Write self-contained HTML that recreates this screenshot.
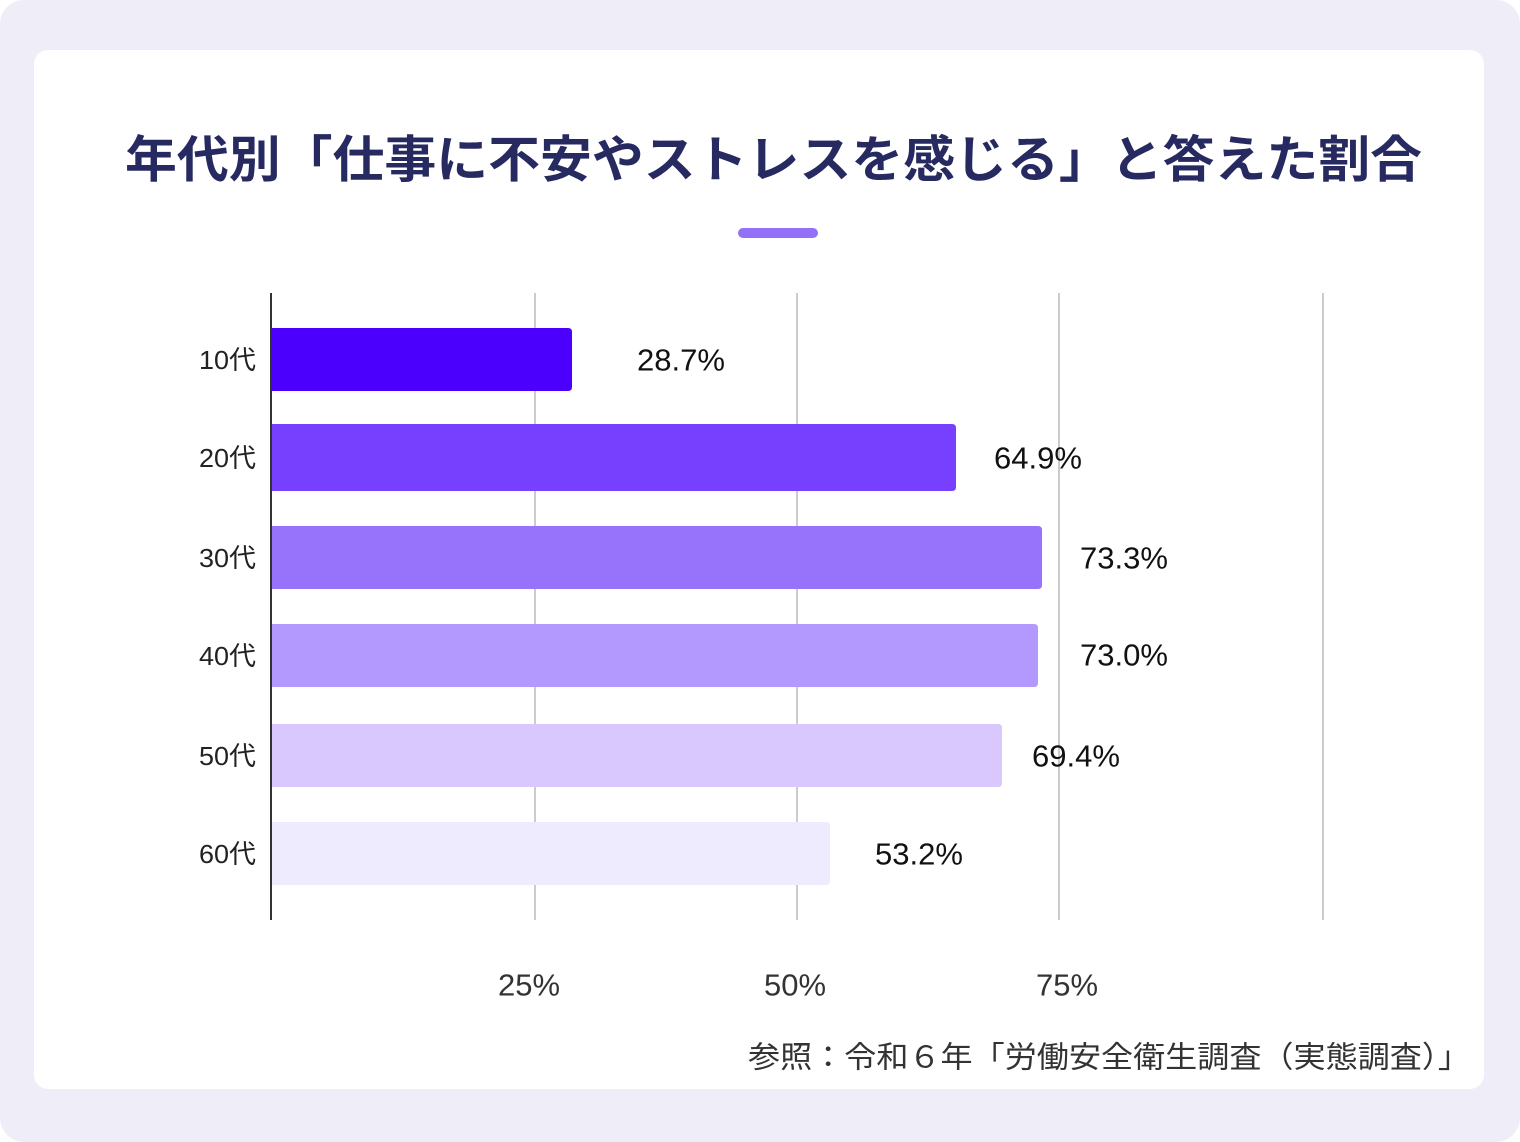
<!DOCTYPE html>
<html><head><meta charset="utf-8"><style>
html,body{margin:0;padding:0;background:#fff;}
svg{display:block;}
</style></head><body>
<svg width="1520" height="1142" viewBox="0 0 1520 1142" xmlns="http://www.w3.org/2000/svg">
<rect x="0" y="0" width="1520" height="1142" fill="#ffffff"/>
<rect x="0" y="0" width="1520" height="1142" rx="24" fill="#efeef8"/>
<rect x="34" y="50" width="1450" height="1039" rx="14" fill="#ffffff"/>
<text x="125" y="156" dominant-baseline="central" font-family="'Noto Sans CJK JP','IPAGothic',sans-serif" font-weight="bold" font-size="50" fill="#272a61" textLength="1297" lengthAdjust="spacingAndGlyphs">年代別「仕事に不安やストレスを感じる」と答えた割合</text>
<rect x="738" y="228" width="80" height="10" rx="5" fill="#9270f8"/>
<g stroke="#cccccc" stroke-width="2">
<line x1="535" y1="293" x2="535" y2="920"/>
<line x1="797" y1="293" x2="797" y2="920"/>
<line x1="1059" y1="293" x2="1059" y2="920"/>
<line x1="1323" y1="293" x2="1323" y2="920"/>
</g>
<path d="M271 328 H568 Q572 328 572 332 V387 Q572 391 568 391 H271 Z" fill="#4b00fe"/>
<path d="M271 424 H952 Q956 424 956 428 V487 Q956 491 952 491 H271 Z" fill="#7740ff"/>
<path d="M271 526 H1038 Q1042 526 1042 530 V585 Q1042 589 1038 589 H271 Z" fill="#9673fa"/>
<path d="M271 624 H1034 Q1038 624 1038 628 V683 Q1038 687 1034 687 H271 Z" fill="#b399fd"/>
<path d="M271 724 H998 Q1002 724 1002 728 V783 Q1002 787 998 787 H271 Z" fill="#d9c8fe"/>
<path d="M271 822 H826 Q830 822 830 826 V881 Q830 885 826 885 H271 Z" fill="#efebfe"/>
<line x1="271" y1="293" x2="271" y2="920" stroke="#333" stroke-width="2"/>
<g font-family="'Liberation Sans','Noto Sans CJK JP',sans-serif" font-size="26" fill="#222" dominant-baseline="central">
<text x="199" y="360" textLength="57" lengthAdjust="spacingAndGlyphs">10代</text>
<text x="199" y="458" textLength="57" lengthAdjust="spacingAndGlyphs">20代</text>
<text x="199" y="558" textLength="57" lengthAdjust="spacingAndGlyphs">30代</text>
<text x="199" y="656" textLength="57" lengthAdjust="spacingAndGlyphs">40代</text>
<text x="199" y="756" textLength="57" lengthAdjust="spacingAndGlyphs">50代</text>
<text x="199" y="854" textLength="57" lengthAdjust="spacingAndGlyphs">60代</text>
</g>
<g font-family="'Liberation Sans',sans-serif" font-size="31" fill="#111" dominant-baseline="central">
<text x="637" y="360" textLength="88" lengthAdjust="spacingAndGlyphs">28.7%</text>
<text x="994" y="458" textLength="88" lengthAdjust="spacingAndGlyphs">64.9%</text>
<text x="1080" y="558" textLength="88" lengthAdjust="spacingAndGlyphs">73.3%</text>
<text x="1080" y="655" textLength="88" lengthAdjust="spacingAndGlyphs">73.0%</text>
<text x="1032" y="756" textLength="88" lengthAdjust="spacingAndGlyphs">69.4%</text>
<text x="875" y="854" textLength="88" lengthAdjust="spacingAndGlyphs">53.2%</text>
</g>
<g font-family="'Liberation Sans',sans-serif" font-size="31" fill="#333" dominant-baseline="central">
<text x="498" y="985" textLength="62" lengthAdjust="spacingAndGlyphs">25%</text>
<text x="764" y="985" textLength="62" lengthAdjust="spacingAndGlyphs">50%</text>
<text x="1036" y="985" textLength="62" lengthAdjust="spacingAndGlyphs">75%</text>
</g>
<text x="748" y="1058" dominant-baseline="central" font-family="'Liberation Sans','Noto Sans CJK JP',sans-serif" font-size="30" fill="#333" textLength="722" lengthAdjust="spacingAndGlyphs">参照：令和６年「労働安全衛生調査（実態調査）」</text>
</svg>
</body></html>
